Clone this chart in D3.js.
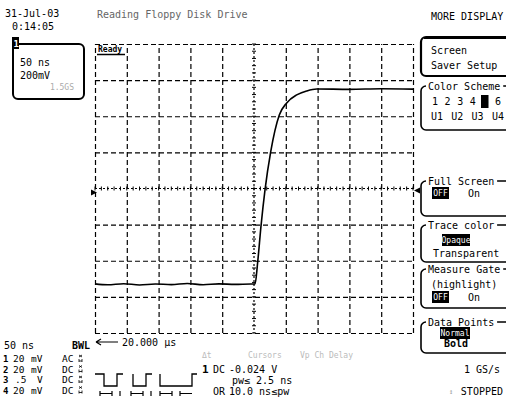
<!DOCTYPE html>
<html lang="en">
<head>
  <meta charset="utf-8" />
  <title>Reading Floppy Disk Drive</title>
  <script src="https://cdn.jsdelivr.net/npm/d3@7"></script>
  <style>
    body { margin: 0; background: #fff; }
    svg { display: block; font-family: "DejaVu Sans Mono", monospace; }
    .grid line { stroke: #000; stroke-width: 1.2; stroke-dasharray: 5,3; }
    .grid path { display: none; }
  </style>
</head>
<body>
<div id="scope"></div>
<script>
  const w = 506;
  const h = 411;

  // trace: time (ns) and level (mV)
  const timeNs    = [0, 20, 45, 70, 95, 120, 145, 170, 195, 220, 245, 251.6, 255.8, 261, 267.3, 276.3, 289.8, 301.4, 317.1, 332.9, 348.6, 400, 450, 500];
  const millivolts = [-528, -533, -527, -534, -529, -532, -526, -533, -528, -531, -529, -529, -407, -208, -8, 204, 407, 474, 518, 540, 551, 549, 552, 550];

  // graticule: 10 x 50 ns, 8 x 200 mV
  const timeTicks = d3.range(0, 501, 50);
  const voltTicks = d3.range(-800, 801, 200);

  // texts on the screen
  const channelRows = [
    ["1", "20", "mV", "AC"],
    ["2", "20", "mV", "DC"],
    ["3", ".5", "V",  "DC"],
    ["4", "20", "mV", "DC"]
  ];
  const colorNums = ["1", "2", "3", "4", "5", "6"];
  const userNums = ["U1", "U2", "U3", "U4"];

  const svg = d3.select("#scope").append("svg")
      .attr("width", w)
      .attr("height", h);

  const x = d3.scaleLinear().domain([0, 500]).range([95, 413]);
  const y = d3.scaleLinear().domain([-800, 800]).range([333, 44]);

  // grid lines through d3 axes
  svg.append("g")
      .attr("class", "grid")
      .attr("transform", `translate(0,${y(-800)})`)
      .call(d3.axisBottom(x).tickValues(timeTicks.filter(t => t !== 250)).tickSize(-(y(-800) - y(800))).tickFormat(""));

  svg.append("g")
      .attr("class", "grid")
      .attr("transform", `translate(${x(0)},0)`)
      .call(d3.axisLeft(y).tickValues(voltTicks.filter(v => v !== 0)).tickSize(-(x(500) - x(0))).tickFormat(""));

  // centre cross, dotted with minor ticks
  const centre = svg.append("g").attr("stroke", "#000");
  centre.append("line")
      .attr("x1", x(0)).attr("x2", x(500)).attr("y1", y(0)).attr("y2", y(0))
      .attr("stroke-width", 1.2).attr("stroke-dasharray", "2,2");
  centre.append("line")
      .attr("x1", x(250)).attr("x2", x(250)).attr("y1", y(800)).attr("y2", y(-800))
      .attr("stroke-width", 1.2).attr("stroke-dasharray", "2,2");
  centre.selectAll("line.mx")
      .data(d3.range(0, 501, 10))
      .enter().append("line")
      .attr("x1", d => x(d)).attr("x2", d => x(d))
      .attr("y1", y(0) - 2).attr("y2", y(0) + 2)
      .attr("stroke-width", 1);
  centre.selectAll("line.my")
      .data(d3.range(-800, 801, 40))
      .enter().append("line")
      .attr("x1", x(250) - 2).attr("x2", x(250) + 2)
      .attr("y1", d => y(d)).attr("y2", d => y(d))
      .attr("stroke-width", 1);

  // the trace
  const line = d3.line()
      .x((d, i) => x(timeNs[i]))
      .y(d => y(d))
      .curve(d3.curveMonotoneX);

  svg.append("path")
      .attr("d", line(millivolts))
      .attr("fill", "none")
      .attr("stroke", "#000")
      .attr("stroke-width", 1.6);

  // ground / level markers
  svg.append("path").attr("d", `M${x(0) - 4},${y(0) + 1} l6,3 l-6,3 z`).attr("fill", "#000");
  svg.append("path").attr("d", `M${x(500) + 7},${y(0) - 1} l-6,3 l6,3 z`).attr("fill", "#000");

  // little label inside the graticule
  svg.append("text").attr("x", 98).attr("y", 52)
      .attr("font-size", 8).attr("font-weight", "bold").text("Ready");
  svg.append("line").attr("x1", 97).attr("x2", 125).attr("y1", 54.5).attr("y2", 54.5)
      .attr("stroke", "#000").attr("stroke-width", 1.5);

  const txt = (tx, ty, s, opts = {}) => svg.append("text")
      .attr("x", tx).attr("y", ty)
      .attr("font-size", opts.size || 10)
      .attr("font-weight", opts.bold ? "bold" : "normal")
      .attr("fill", opts.fill || "#000")
      .attr("text-anchor", opts.anchor || "start")
      .text(s);

  // header
  txt(5, 17, "31-Jul-03");
  txt(12, 30, "0:14:05");
  txt(97, 18, "Reading Floppy Disk Drive", { fill: "#666" });
  txt(431, 20, "MORE DISPLAY");

  // channel readout box
  svg.append("rect").attr("x", 13).attr("y", 44).attr("width", 71).attr("height", 55).attr("rx", 5)
      .attr("fill", "none").attr("stroke", "#000").attr("stroke-width", 2);
  svg.append("rect").attr("x", 12).attr("y", 37).attr("width", 7).attr("height", 12).attr("fill", "#000");
  txt(13.5, 47, "1", { size: 9, fill: "#fff", bold: true });
  txt(20, 66, "50 ns");
  txt(20, 79, "200mV");
  txt(74, 90, "1.5GS", { size: 8, fill: "#aaa", anchor: "end" });

  // right hand menu
  const box = (by, bh, thick) => svg.append("rect")
      .attr("x", 421).attr("y", by).attr("width", 100).attr("height", bh).attr("rx", 5)
      .attr("fill", "none").attr("stroke", "#000").attr("stroke-width", thick || 1.6);
  const boxTitle = (by, s) => {
    svg.append("rect").attr("x", 426).attr("y", by - 6).attr("width", s.length * 6.1 + 4).attr("height", 12).attr("fill", "#fff");
    txt(428, by + 3.5, s);
  };
  const inv = (bx, by, bw, s) => {
    svg.append("rect").attr("x", bx).attr("y", by - 6).attr("width", bw).attr("height", 12).attr("fill", "#000");
    txt(bx + bw / 2, by + 3, s, { size: 8, fill: "#fff", anchor: "middle" });
  };

  box(37, 39, 2.2);
  svg.append("line").attr("x1", 424).attr("x2", 506).attr("y1", 38).attr("y2", 38).attr("stroke", "#000").attr("stroke-width", 2);
  txt(431, 54, "Screen");
  txt(431, 69, "Saver Setup");

  box(86, 44);
  boxTitle(86, "Color Scheme");
  svg.append("rect").attr("x", 481).attr("y", 95).attr("width", 7.5).attr("height", 13).attr("fill", "#000");
  svg.selectAll("text.cs")
      .data(colorNums)
      .enter().append("text")
      .attr("x", (d, i) => 432 + i * 12.6)
      .attr("y", 105)
      .attr("font-size", 10)
      .text(d => d);
  svg.selectAll("text.us")
      .data(userNums)
      .enter().append("text")
      .attr("x", (d, i) => 431 + i * 20.3)
      .attr("y", 120)
      .attr("font-size", 10)
      .text(d => d);

  box(181, 35);
  boxTitle(181, "Full Screen");
  inv(432, 193, 17, "OFF");
  txt(468, 197, "On");

  box(225, 37);
  boxTitle(225, "Trace color");
  inv(442, 240, 28, "Opaque");
  txt(433, 257, "Transparent");

  box(269, 39);
  boxTitle(269, "Measure Gate");
  txt(431, 288, "(highlight)");
  inv(432, 297, 17, "OFF");
  txt(468, 301, "On");

  box(322, 31);
  boxTitle(322, "Data Points");
  inv(440, 333, 30, "Normal");
  txt(444, 347, "Bold", { bold: true });

  // bottom left readout
  txt(4, 349, "50 ns");
  txt(72, 349, "BWL", { bold: true });
  svg.append("path").attr("d", "M96,342 H118 M96,342 l5,-3 M96,342 l5,3")
      .attr("stroke", "#000").attr("stroke-width", 1.2).attr("fill", "none");
  txt(122, 346, "20.000 µs");

  channelRows.forEach((r, i) => {
    const ry = 362 + i * 10.5;
    txt(3, ry, r[0], { bold: true, size: 9 });
    txt(r[1] === ".5" ? 15 : 13, ry, r[1], { size: 9.5 });
    txt(r[2] === "V" ? 37 : 31, ry, r[2], { size: 9.5 });
    txt(62, ry, r[3], { size: 9.5 });
    // tiny probe glyph
    svg.append("path")
        .attr("d", `M79,${ry - 7} l3,2 M82,${ry - 7} l-3,2 M79,${ry - 3} V${ry} M79,${ry - 1} H82 M82,${ry - 3} V${ry}`)
        .attr("stroke", "#000").attr("stroke-width", 0.8).attr("fill", "none");
  });

  // trigger pulse icons
  svg.append("path")
      .attr("d", "M95,374 H104 V386 H117 V374 H123 M133,374 V386 H146 V374 H152 M160,374 V386 H192 V374 H197")
      .attr("fill", "none").attr("stroke", "#000").attr("stroke-width", 1.3);
  svg.append("path")
      .attr("d", "M100,391 V396 M100,393.5 H112 M112,391 V396 M120,391 V396 M131,391 V396 M131,393.5 H143 M143,391 V396 M151,391 V396 M160,391 V396 M160,393.5 H172 M172,391 V396 M180,391 V396 M180,393.5 H192")
      .attr("fill", "none").attr("stroke", "#000").attr("stroke-width", 1.2);

  // trigger readout
  txt(202, 358, "Δt", { size: 8, fill: "#bbb" });
  txt(248, 358, "Cursors", { size: 8, fill: "#bbb" });
  txt(300, 358, "Vp  Ch Delay", { size: 8, fill: "#bbb" });
  txt(202, 373, "1", { bold: true, size: 11 });
  txt(213, 373, "DC");
  txt(229, 373, "-0.024 V");
  txt(232, 384, "pw≤  2.5 ns");
  txt(213, 395, "OR");
  txt(229, 395, "10.0 ns≤pw");

  // right bottom status
  txt(500, 373, "1 GS/s", { anchor: "end" });
  txt(449, 394, "↕", { size: 7, fill: "#999" });
  txt(503, 395, "STOPPED", { anchor: "end" });
</script>
</body>
</html>
